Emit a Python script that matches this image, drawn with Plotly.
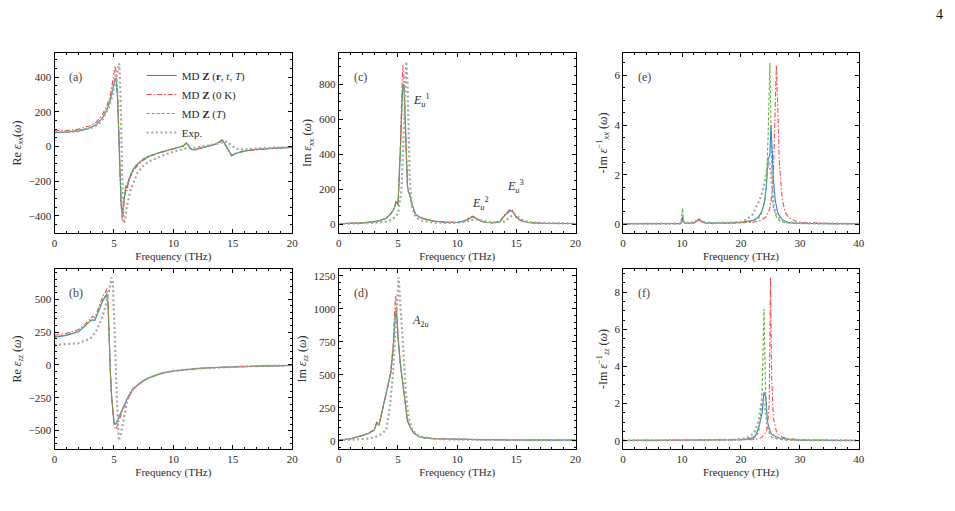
import plotly.graph_objects as go

# ---------------- data ----------------
# (a) Re eps_xx
freq_a = [0, 1, 2, 3, 3.5, 4, 4.4, 4.7, 4.9, 5.0, 5.1, 5.2, 5.3, 5.4, 5.5, 5.6, 5.7, 5.8, 5.9, 6.0,
          6.1, 6.2, 6.4, 6.7, 7.0, 7.5, 8, 8.5, 9, 9.5, 10, 10.5, 10.8, 11.1, 11.3, 11.5, 11.7, 12, 12.5, 13,
          13.5, 13.9, 14.1, 14.3, 14.6, 14.9, 15.2, 15.6, 16, 17, 18, 19, 20]
a_full = [80, 82, 90, 108, 125, 160, 210, 270, 330, 370, 395, 375, 280, 80, -170, -330, -390, -340, -260, -230,
          -240, -205, -165, -125, -100, -72, -55, -42, -32, -23, -15, -7, 2, 20, 5, -15, -20, -14, -5, 3,
          12, 28, 38, 18, -18, -52, -42, -32, -26, -17, -11, -8, -5]
a_0K = [90, 92, 100, 120, 140, 180, 235, 300, 380, 440, 465, 420, 330, 120, -150, -340, -430, -380, -290, -250,
        -255, -215, -175, -135, -108, -78, -58, -45, -34, -24, -16, -8, 0, 18, 4, -16, -22, -15, -6, 2,
        11, 26, 36, 16, -20, -55, -44, -33, -27, -18, -12, -8, -6]
a_T = [82, 84, 92, 110, 128, 163, 215, 275, 335, 380, 410, 385, 290, 90, -160, -320, -380, -330, -255, -225,
       -235, -200, -160, -122, -98, -70, -53, -41, -31, -22, -14, -6, 3, 22, 6, -14, -19, -13, -4, 4,
       13, 30, 40, 20, -16, -50, -40, -31, -25, -16, -10, -7, -4]
freq_a_exp = [0, 1, 2, 3, 3.5, 4, 4.5, 4.8, 5.0, 5.2, 5.35, 5.45, 5.55, 5.65, 5.75, 5.85, 5.95, 6.1, 6.4, 7,
              7.5, 8, 9, 10, 11, 12, 13, 13.5, 14, 14.5, 15, 15.5, 16, 17, 18, 19, 20]
a_exp = [80, 82, 88, 105, 120, 150, 215, 275, 330, 400, 455, 480, 300, -50, -350, -445, -420, -340, -250, -150,
         -110, -85, -55, -30, -12, -5, 5, 12, 22, 28, 0, -18, -16, -11, -8, -6, -5]

# (c) Im eps_xx
freq_c = [0, 2, 3, 3.5, 4, 4.4, 4.7, 4.85, 5.0, 5.1, 5.2, 5.3, 5.4, 5.5, 5.6, 5.7, 5.8, 5.9, 6.0, 6.2,
          6.5, 7, 8, 9, 10, 10.6, 11.0, 11.3, 11.6, 12, 12.5, 13, 13.6, 14.0, 14.3, 14.5, 14.7, 15.0, 15.4, 16,
          17, 18, 20]
c_full = [3, 8, 15, 22, 35, 60, 95, 130, 110, 230, 420, 620, 790, 800, 600, 350, 220, 180, 170, 110,
          55, 35, 18, 12, 10, 18, 35, 43, 35, 18, 10, 9, 15, 50, 68, 78, 72, 40, 20, 10, 6, 5, 4]
c_0K = [3, 8, 15, 22, 35, 62, 98, 135, 115, 250, 450, 700, 910, 840, 620, 360, 225, 185, 170, 110,
        55, 35, 18, 12, 10, 20, 38, 46, 37, 19, 10, 9, 16, 55, 72, 88, 78, 42, 20, 10, 6, 5, 4]
c_T = [3, 8, 15, 22, 35, 60, 95, 128, 108, 225, 410, 610, 780, 820, 610, 350, 215, 178, 165, 108,
       55, 35, 18, 12, 10, 17, 33, 41, 34, 17, 10, 9, 15, 48, 66, 76, 70, 38, 19, 10, 6, 5, 4]
freq_c_exp = [0, 2, 3, 4, 4.5, 5.0, 5.3, 5.5, 5.6, 5.7, 5.8, 5.9, 6.0, 6.2, 6.5, 7, 8, 9, 10, 10.8,
              11.5, 12.2, 13, 14, 14.5, 14.8, 15.1, 15.5, 16, 17, 18, 20]
c_exp = [2, 5, 8, 15, 25, 60, 200, 550, 800, 930, 820, 500, 250, 90, 40, 20, 10, 8, 8, 15,
         30, 20, 10, 15, 40, 60, 45, 25, 12, 8, 6, 4]

# (e) -Im 1/eps_xx
freq_e = [0, 5, 9.8, 10.1, 10.25, 10.5, 11, 12, 12.5, 12.9, 13.3, 14, 16, 18, 20, 21, 22, 23, 23.5, 24,
          24.3, 24.6, 24.9, 25.1, 25.3, 25.5, 25.8, 26.0, 26.2, 26.5, 27, 27.5, 28, 29, 30, 32, 35, 40]
e_full = [0.02, 0.02, 0.03, 0.3, 0.1, 0.05, 0.04, 0.06, 0.12, 0.22, 0.12, 0.05, 0.04, 0.05, 0.08,
          0.1, 0.15, 0.3, 0.5, 0.9, 1.5, 2.6, 2.8, 4.0, 2.8, 1.8, 1.0, 0.7, 0.5, 0.35,
          0.2, 0.12, 0.08, 0.05, 0.04, 0.03, 0.02, 0.02]
e_0K = [0.02, 0.02, 0.03, 0.2, 0.08, 0.05, 0.04, 0.05, 0.1, 0.18, 0.1, 0.04, 0.03, 0.04, 0.05,
        0.06, 0.08, 0.12, 0.17, 0.25, 0.32, 0.45, 0.65, 0.9, 1.3, 2.0, 4.5, 6.4, 5.0, 2.5,
        1.0, 0.5, 0.3, 0.15, 0.08, 0.05, 0.03, 0.02]
e_T = [0.02, 0.02, 0.03, 0.65, 0.15, 0.05, 0.04, 0.06, 0.12, 0.22, 0.12, 0.05, 0.04, 0.05, 0.06,
       0.08, 0.12, 0.25, 0.45, 0.9, 1.6, 3.5, 6.5, 4.0, 1.5, 0.7, 0.4, 0.3, 0.22, 0.16,
       0.1, 0.07, 0.05, 0.04, 0.03, 0.02, 0.02, 0.02]
freq_e_exp = [0, 5, 9.8, 10.3, 10.8, 12, 12.8, 13.5, 15, 18, 20, 21, 22, 23, 23.5, 24, 24.4, 24.7, 25.0, 25.3,
              25.6, 26, 26.5, 27, 28, 30, 35, 40]
e_exp = [0.02, 0.02, 0.03, 0.12, 0.06, 0.08, 0.2, 0.1, 0.05, 0.06, 0.1, 0.2, 0.4, 0.9, 1.2, 1.7, 2.2, 2.55, 2.2, 1.3,
         0.65, 0.4, 0.25, 0.15, 0.08, 0.05, 0.03, 0.02]

# (b) Re eps_zz
freq_b = [0, 1, 2, 2.5, 3, 3.2, 3.4, 3.6, 3.9, 4.1, 4.3, 4.4, 4.5, 4.6, 4.7, 4.8, 4.9, 5.0, 5.1, 5.2,
          5.3, 5.4, 5.5, 5.7, 5.9, 6.2, 6.6, 7, 7.5, 8, 9, 10, 11, 12, 13, 14, 16, 18, 20]
b_full = [211, 225, 253, 290, 335, 342, 340, 385, 440, 495, 520, 538, 460, 150, -60, -230, -360, -430, -448, -448,
          -420, -400, -370, -335, -300, -240, -180, -150, -118, -95, -63, -46, -35, -27, -22, -18, -11, -7, -4]
b_0K = [226, 240, 268, 305, 350, 370, 360, 410, 470, 530, 555, 580, 500, 180, -50, -240, -390, -460, -485, -490,
        -460, -430, -395, -350, -310, -250, -188, -155, -122, -98, -65, -47, -36, -28, -22, -18, -11, -7, -4]
b_T = [215, 228, 256, 293, 338, 345, 343, 390, 448, 505, 530, 548, 470, 160, -55, -235, -365, -435, -452, -450,
       -425, -402, -372, -337, -300, -240, -182, -151, -119, -95, -63, -46, -35, -27, -22, -18, -11, -7, -4]
freq_b_exp = [0, 1, 2, 3, 3.5, 4, 4.3, 4.6, 4.8, 4.9, 5.0, 5.1, 5.2, 5.3, 5.4, 5.55, 5.7, 5.9, 6.1, 6.5,
              7, 7.5, 8, 9, 10, 12, 14, 16, 18, 20]
b_exp = [152, 156, 165, 200, 255, 360, 450, 570, 665, 640, 450, 150, -150, -430, -576, -540, -470, -360, -280, -200,
         -150, -118, -95, -63, -46, -28, -18, -11, -7, -4]

# (d) Im eps_zz
freq_d = [0, 1, 2, 2.5, 3.0, 3.2, 3.4, 3.6, 3.8, 4.0, 4.2, 4.4, 4.6, 4.7, 4.8, 4.9, 5.0, 5.2, 5.4, 5.6,
          5.8, 6.0, 6.3, 6.7, 7, 8, 9, 10, 12, 15, 20]
d_full = [5, 15, 40, 55, 80, 135, 120, 200, 270, 340, 420, 520, 700, 850, 990, 940, 780, 580, 430, 280,
          150, 110, 60, 35, 25, 15, 12, 10, 8, 5, 4]
d_0K = [5, 15, 42, 58, 85, 140, 125, 205, 275, 350, 430, 540, 740, 950, 1100, 1000, 800, 590, 440, 290,
        155, 112, 62, 36, 25, 15, 12, 10, 8, 5, 4]
d_T = [5, 15, 40, 55, 80, 135, 120, 200, 270, 340, 420, 520, 710, 870, 1010, 960, 790, 585, 435, 285,
       152, 110, 60, 35, 25, 15, 12, 10, 8, 5, 4]
freq_d_exp = [0, 1, 2, 2.5, 3, 3.5, 4.0, 4.3, 4.56, 4.8, 5.05, 5.3, 5.5, 5.67, 5.9, 6.2, 6.6, 7, 8, 10, 15, 20]
d_exp = [2, 5, 10, 15, 25, 45, 81, 250, 486, 900, 1240, 900, 600, 362, 180, 81, 45, 30, 15, 8, 5, 3]

# (f) -Im 1/eps_zz
freq_f = [0, 5, 10, 15, 18, 20, 21, 22, 22.5, 23.0, 23.3, 23.6, 23.9, 24.2, 24.5, 24.8, 25.0, 25.2, 25.5, 26,
          26.5, 27, 28, 30, 35, 40]
f_full = [0.01, 0.01, 0.01, 0.02, 0.03, 0.05, 0.08, 0.15, 0.3, 0.7, 1.1, 1.5, 2.6, 2.35, 1.0,
          0.6, 0.45, 0.35, 0.28, 0.2, 0.14, 0.1, 0.06, 0.03, 0.02, 0.01]
f_0K = [0.01, 0.01, 0.01, 0.01, 0.02, 0.02, 0.03, 0.05, 0.07, 0.1, 0.14, 0.2, 0.3, 0.45, 0.8,
        2.0, 8.8, 3.5, 1.2, 0.5, 0.3, 0.2, 0.1, 0.05, 0.02, 0.01]
f_T = [0.01, 0.01, 0.01, 0.02, 0.02, 0.03, 0.05, 0.1, 0.2, 0.5, 1.2, 2.8, 7.1, 2.5, 0.8,
       0.4, 0.28, 0.2, 0.14, 0.1, 0.07, 0.05, 0.03, 0.02, 0.01, 0.01]
freq_f_exp = [0, 5, 10, 15, 18, 20, 21, 22, 22.5, 23.0, 23.3, 23.6, 23.9, 24.2, 24.5, 25, 25.5, 26, 27, 28,
              30, 35, 40]
f_exp = [0.01, 0.01, 0.01, 0.02, 0.04, 0.08, 0.15, 0.35, 0.6, 1.1, 1.7, 2.3, 2.1, 1.4, 0.8, 0.45, 0.28, 0.2, 0.1, 0.06,
         0.03, 0.02, 0.01]

series_names = ["MD <b>Z</b> (<b>r</b>, <i>t</i>, <i>T</i>)", "MD <b>Z</b> (0 K)", "MD <b>Z</b> (<i>T</i>)", "Exp."]

# ---------------- style ----------------
FONT = "Liberation Serif, DejaVu Serif, serif"
TXT = "#2a2a2a"
BLUE, RED, GREEN, GRAY = "#2f7ed8", "#ff4a4a", "#5cb531", "#a6a6a6"
styles = [
    dict(color=BLUE, dash="solid", width=1.1),
    dict(color=RED, dash="5px,2px,1.5px,2px", width=1.1),
    dict(color=GREEN, dash="3px,2px", width=1.1),
    dict(color=GRAY, dash="2px,2.6px", width=2.2),
]

W, H = 955, 511
colx = [(52, 292), (339, 578), (626, 864)]
rowy = [(53, 233), (269, 449)]

panels = [
    (0, 0, "(a)", freq_a, [a_full, a_0K, a_T], freq_a_exp, a_exp, 20, 5, 1, [-500, 540], 200, 50,
     "Re <i>ε</i><sub><i>xx</i></sub>(<i>ω</i>)"),
    (0, 1, "(c)", freq_c, [c_full, c_0K, c_T], freq_c_exp, c_exp, 20, 5, 1, [-50, 980], 200, 50,
     "Im <i>ε</i><sub><i>xx</i></sub> (<i>ω</i>)"),
    (0, 2, "(e)", freq_e, [e_full, e_0K, e_T], freq_e_exp, e_exp, 40, 10, 2, [-0.35, 6.9], 2, 0.5,
     "-Im <i>ε</i><sup>−1</sup><sub><i>xx</i></sub> (<i>ω</i>)"),
    (1, 0, "(b)", freq_b, [b_full, b_0K, b_T], freq_b_exp, b_exp, 20, 5, 1, [-640, 730], 250, 50,
     "Re <i>ε</i><sub><i>zz</i></sub> (<i>ω</i>)"),
    (1, 1, "(d)", freq_d, [d_full, d_0K, d_T], freq_d_exp, d_exp, 20, 5, 1, [-63, 1303], 250, 50,
     "Im <i>ε</i><sub><i>zz</i></sub> (<i>ω</i>)"),
    (1, 2, "(f)", freq_f, [f_full, f_0K, f_T], freq_f_exp, f_exp, 40, 10, 2, [-0.45, 9.25], 2, 0.5,
     "-Im <i>ε</i><sup>−1</sup><sub><i>zz</i></sub> (<i>ω</i>)"),
]

fig = go.Figure()
layout = dict(
    width=W, height=H, margin=dict(l=0, r=0, t=0, b=0),
    paper_bgcolor="white", plot_bgcolor="white",
    font=dict(family=FONT, size=11, color=TXT),
    showlegend=True,
    legend=dict(x=140 / W, y=1 - 61 / H, xanchor="left", yanchor="top",
                bgcolor="rgba(0,0,0,0)", font=dict(size=11, family=FONT, color=TXT),
                itemwidth=30, tracegroupgap=0),
)
annotations = []

for i, (r, c, lab, fx, ys, fxe, ye, xmax, xdt, xmin_, yr, ydt, ymin_, ytitle) in enumerate(panels):
    k = i + 1
    xa = "x" if k == 1 else f"x{k}"
    ya = "y" if k == 1 else f"y{k}"
    xl = "xaxis" if k == 1 else f"xaxis{k}"
    yl = "yaxis" if k == 1 else f"yaxis{k}"
    x0, x1 = colx[c]
    y0, y1 = rowy[r]
    for j, yv in enumerate(ys):
        fig.add_trace(go.Scatter(x=fx, y=yv, mode="lines", name=series_names[j],
                                 line=styles[j], xaxis=xa, yaxis=ya,
                                 legendgroup=str(j), showlegend=(k == 1)))
    fig.add_trace(go.Scatter(x=fxe, y=ye, mode="lines", name=series_names[3],
                             line=styles[3], xaxis=xa, yaxis=ya,
                             legendgroup="3", showlegend=(k == 1)))
    axcommon = dict(showline=True, linecolor="black", linewidth=1, mirror="allticks",
                    ticks="inside", ticklen=4, tickwidth=1, tickcolor="black",
                    showgrid=False, zeroline=False, tickfont=dict(size=11, family=FONT, color=TXT))
    layout[xl] = dict(axcommon, domain=[x0 / W, x1 / W], range=[0, xmax], anchor=ya,
                      tick0=0, dtick=xdt,
                      minor=dict(ticks="inside", ticklen=2, dtick=xmin_, tickcolor="black", showgrid=False),
                      title=dict(text="Frequency (THz)", font=dict(size=11, family=FONT, color=TXT), standoff=4))
    layout[yl] = dict(axcommon, domain=[1 - y1 / H, 1 - y0 / H], range=yr, anchor=xa,
                      tick0=0, dtick=ydt,
                      minor=dict(ticks="inside", ticklen=2, dtick=ymin_, tickcolor="black", showgrid=False),
                      title=dict(text=ytitle, font=dict(size=12, family=FONT, color=TXT), standoff=4))
    annotations.append(dict(text=lab, xref=f"{xa} domain", yref=f"{ya} domain", x=13 / (x1 - x0),
                            y=1 - 24 / (y1 - y0), xanchor="left", yanchor="middle", showarrow=False,
                            font=dict(size=12, family=FONT, color="#444")))

# peak labels
annotations += [
    dict(text="<i>E</i><sub><i>u</i></sub><sup>1</sup>", xref="x2", yref="y2", x=6.1, y=710,
         xanchor="left", yanchor="middle", showarrow=False, font=dict(size=12, family=FONT, color=TXT)),
    dict(text="<i>E</i><sub><i>u</i></sub><sup>2</sup>", xref="x2", yref="y2", x=11.1, y=120,
         xanchor="left", yanchor="middle", showarrow=False, font=dict(size=12, family=FONT, color=TXT)),
    dict(text="<i>E</i><sub><i>u</i></sub><sup>3</sup>", xref="x2", yref="y2", x=14.0, y=215,
         xanchor="left", yanchor="middle", showarrow=False, font=dict(size=12, family=FONT, color=TXT)),
    dict(text="<i>A</i><sub>2<i>u</i></sub>", xref="x5", yref="y5", x=6.0, y=905,
         xanchor="left", yanchor="middle", showarrow=False, font=dict(size=12, family=FONT, color=TXT)),
    dict(text="4", xref="paper", yref="paper", x=945 / W, y=1 - 14 / H,
         xanchor="center", yanchor="middle", showarrow=False, font=dict(size=14, family=FONT, color="#111")),
]
layout["annotations"] = annotations
fig.update_layout(**layout)
fig.write_html("out.html")
